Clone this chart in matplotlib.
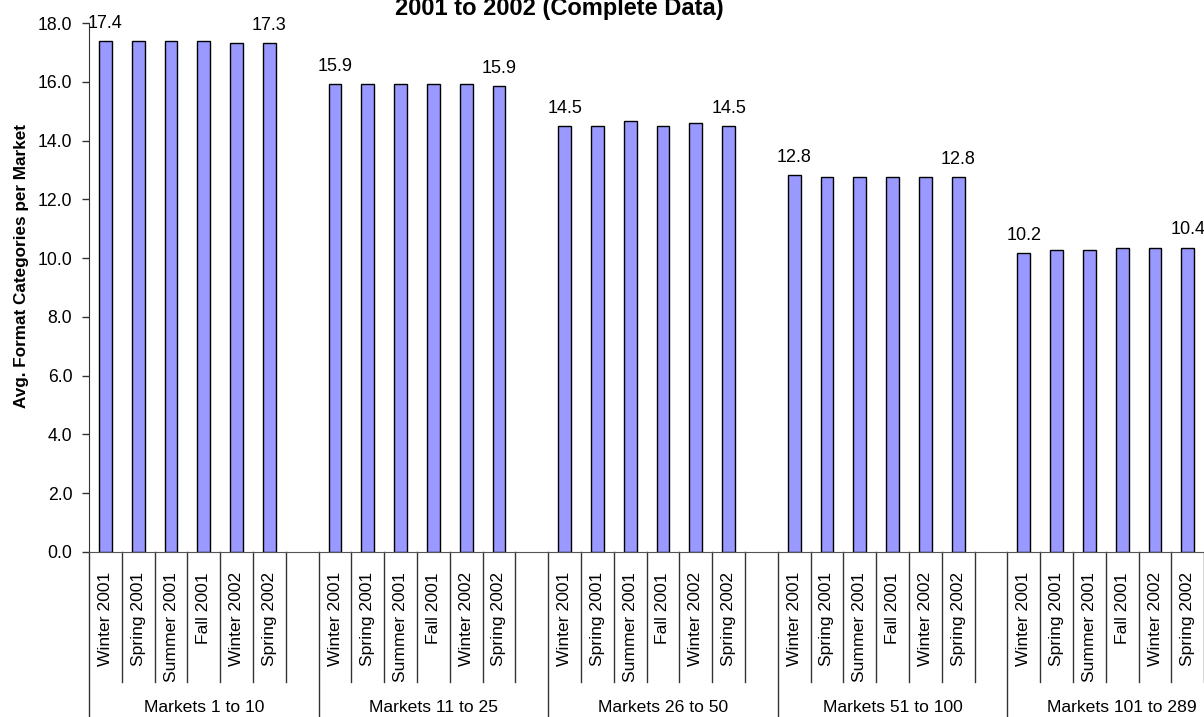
import matplotlib
matplotlib.use("Agg")
import matplotlib.pyplot as plt
import numpy as np

plt.rcParams['font.family'] = ['Liberation Sans', 'DejaVu Sans']

# Data
seasons = ["Winter 2001", "Spring 2001", "Summer 2001", "Fall 2001", "Winter 2002", "Spring 2002"]
groups = ["Markets 1 to 10", "Markets 11 to 25", "Markets 26 to 50", "Markets 51 to 100", "Markets 101 to 289"]
markets_1_10 = [17.38, 17.38, 17.38, 17.38, 17.33, 17.33]
markets_11_25 = [15.92, 15.92, 15.92, 15.92, 15.92, 15.86]
markets_26_50 = [14.51, 14.51, 14.65, 14.51, 14.60, 14.51]
markets_51_100 = [12.83, 12.76, 12.76, 12.76, 12.76, 12.76]
markets_101_289 = [10.16, 10.29, 10.29, 10.36, 10.36, 10.36]
group_values = [markets_1_10, markets_11_25, markets_26_50, markets_51_100, markets_101_289]
y_ticks = [0, 2, 4, 6, 8, 10, 12, 14, 16, 18]

W, H = 1204, 717
fig = plt.figure(figsize=(W / 100, H / 100), dpi=100)
ax_left, ax_bottom, ax_w, ax_h = 89, 165, 1148, 529
ax = fig.add_axes([ax_left / W, ax_bottom / H, ax_w / W, ax_h / H])

slots = len(seasons) + 1  # each group ends with an empty slot
n = slots * len(groups)
positions, heights, labels = [], [], []
for g, vals in enumerate(group_values):
    for s, v in enumerate(vals):
        positions.append(g * slots + s)
        heights.append(v)
        labels.append(seasons[s])

ax.bar(positions, heights, width=0.39, color="#9999FF", edgecolor="black",
       linewidth=1.0, zorder=3)

# Value labels on the first and last bar of each group
for g, vals in enumerate(group_values):
    for s in (0, len(vals) - 1):
        v = vals[s]
        ax.annotate(f"{v:.1f}", xy=(g * slots + s, v), xytext=(0, 9.4),
                    textcoords="offset points", ha="center", va="baseline",
                    fontsize=13, zorder=4)

ax.set_xlim(-0.5, n - 0.5)
ax.set_ylim(0, 18)
ax.set_yticks(y_ticks)
ax.set_yticklabels([f"{t:.1f}" for t in y_ticks], fontsize=12.7)
ax.tick_params(axis="y", direction="out", length=5, width=1, color="#333333", pad=7)

ax.set_xticks(positions)
ax.set_xticklabels(labels, rotation=90, fontsize=12.6)
ax.tick_params(axis="x", length=0, pad=14.4)

for side in ("top", "right"):
    ax.spines[side].set_visible(False)
ax.spines["left"].set_color("#333333")
ax.spines["bottom"].set_color("#555555")

# Category separators and group dividers below the axis
xt = ax.get_xaxis_transform()
for i in range(n):
    x = i - 0.5
    if i % slots == 0:
        ax.plot([x, x], [0, -0.33], transform=xt, color="#333333", lw=1, clip_on=False)
    else:
        ax.plot([x, x], [0, -130 / ax_h], transform=xt, color="#333333", lw=1, clip_on=False)

for g, name in enumerate(groups):
    xc = g * slots + (slots - 1) / 2
    ax.text(xc, -155 / ax_h, name, transform=xt, ha="center", va="center", fontsize=12.6)

fig.text(22 / W, 1 - 266 / H, "Avg. Format Categories per Market", rotation=90,
         ha="center", va="center", fontsize=12.3, fontweight="bold")
fig.text(559 / W, 1 - 15 / H, "2001 to 2002 (Complete Data)", ha="center",
         va="baseline", fontsize=17, fontweight="bold")

fig.savefig("out.png", dpi=100)
